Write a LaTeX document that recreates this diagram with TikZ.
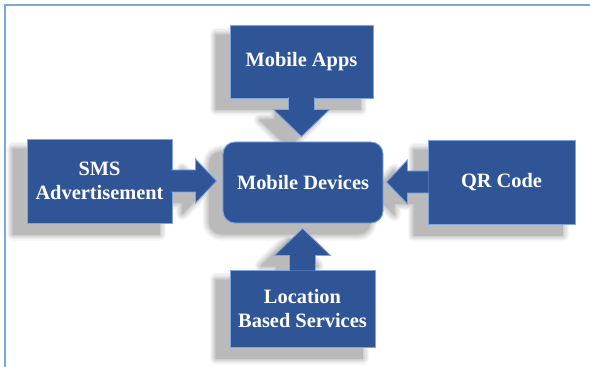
\documentclass[tikz,border=0pt]{standalone}
\usepackage{fontspec}
\setmainfont{Liberation Serif}
\usetikzlibrary{positioning, calc, backgrounds}
\definecolor{boxblue}{RGB}{47,85,151}
\definecolor{boxedge}{RGB}{125,165,225}
\definecolor{framebl}{RGB}{120,170,220}
\tikzset{
  callout/.style={fill=boxblue, draw=boxedge, line width=0.6pt},
  calloutbox/.style={callout, rectangle, inner sep=0pt, align=center, text=white, font=\fontsize{14.5}{17}\selectfont\bfseries},
  shadowlayer/.style={line join=round, transform canvas={shift={(-0.33cm,-0.26cm)}}}
}

\begin{document}
\begin{tikzpicture}[x=0.025cm, y=0.025cm]
  \useasboundingbox (0,0) rectangle (590,367);
  % frame edges
  \draw[framebl, line width=0.8pt] (5,0) -- (5,362) -- (590,362);

  % Boxes
  \node[calloutbox, rounded corners=0.3cm, minimum width=4cm, minimum height=2.025cm] (dev) at (303,184.5) {Mobile Devices};
  \node[calloutbox, minimum width=3.575cm, minimum height=1.825cm] (apps) at (301.5,305.5) {Mobile Apps};
  \node[calloutbox, minimum width=3.625cm, minimum height=2.1cm] (sms) at (99.5,186) {SMS\\Advertisement};
  \node[calloutbox, minimum width=3.675cm, minimum height=2.1cm] (qr) at (501.5,185) {QR Code};
  \node[calloutbox, minimum width=3.625cm, minimum height=1.925cm] (loc) at (302.5,58.5) {Location\\Based Services};

  % Arrow tips, just short of the centre box
  \coordinate (tipA) at ($(apps.south |- dev.north)+(0,5)$);
  \coordinate (tipS) at ($(dev.west |- sms.east)+(-6,0)$);
  \coordinate (tipQ) at ($(dev.east |- qr.west)+(3,0)$);
  \coordinate (tipL) at ($(loc.north |- dev.south)+(0,-5)$);

  % Callout arrows (left open on the box side)
  \def\appsarrow{($(apps.south)+(-13,1)$) -- ($(tipA)+(-13,27)$) -- ($(tipA)+(-28,27)$) -- (tipA) -- ($(tipA)+(28,27)$) -- ($(tipA)+(13,27)$) -- ($(apps.south)+(13,1)$)}
  \def\smsarrow{($(sms.east)+(-1,11)$) -- ($(tipS)+(-21,11)$) -- ($(tipS)+(-21,22)$) -- (tipS) -- ($(tipS)+(-21,-22)$) -- ($(tipS)+(-21,-11)$) -- ($(sms.east)+(-1,-11)$)}
  \def\qrarrow{($(qr.west)+(1,11)$) -- ($(tipQ)+(21,11)$) -- ($(tipQ)+(21,22)$) -- (tipQ) -- ($(tipQ)+(21,-22)$) -- ($(tipQ)+(21,-11)$) -- ($(qr.west)+(1,-11)$)}
  \def\locarrow{($(loc.north)+(-13,-1)$) -- ($(tipL)+(-13,-27)$) -- ($(tipL)+(-28,-27)$) -- (tipL) -- ($(tipL)+(28,-27)$) -- ($(tipL)+(13,-27)$) -- ($(loc.north)+(13,-1)$)}

  \path[callout] \appsarrow;
  \path[callout] \smsarrow;
  \path[callout] \qrarrow;
  \path[callout] \locarrow;

  % Soft shadows behind everything: light wide rings first, darker narrow ones on top
  \begin{scope}[on background layer]
    \fill[white] (0,0) rectangle (590,367);
    \foreach \w/\c in {0.34/3, 0.28/7, 0.22/11, 0.16/15, 0.1/19, 0.05/23, 0.01/27}{
      \begin{scope}[shadowlayer, fill=black!\c, draw=black!\c, line width=\w cm]
        \filldraw[rounded corners=0.3cm] (dev.south west) rectangle (dev.north east);
        \filldraw (apps.south west) rectangle (apps.north east);
        \filldraw \appsarrow -- cycle;
        \filldraw (sms.south west) rectangle (sms.north east);
        \filldraw \smsarrow -- cycle;
        \filldraw (qr.south west) rectangle (qr.north east);
        \filldraw \qrarrow -- cycle;
        \filldraw (loc.south west) rectangle (loc.north east);
        \filldraw \locarrow -- cycle;
      \end{scope}
    }
  \end{scope}
\end{tikzpicture}
\end{document}
